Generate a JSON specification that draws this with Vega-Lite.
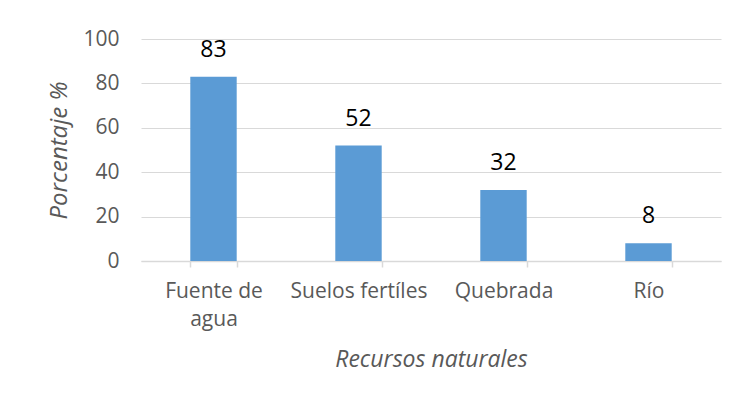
{
  "$schema": "https://vega.github.io/schema/vega-lite/v6.json",
  "autosize": "none",
  "width": 580,
  "height": 222,
  "padding": {"left": 141, "top": 39, "right": 15, "bottom": 141},
  "background": "white",
  "config": {
    "view": {"stroke": null},
    "font": "Open Sans"
  },
  "data": {
    "values": [
      {"recurso": "Fuente de agua", "porcentaje": 83},
      {"recurso": "Suelos fertíles", "porcentaje": 52},
      {"recurso": "Quebrada", "porcentaje": 32},
      {"recurso": "Río", "porcentaje": 8}
    ]
  },
  "encoding": {
    "x": {
      "field": "recurso",
      "type": "nominal",
      "sort": null,
      "scale": {"paddingInner": 0.68, "paddingOuter": 0.34},
      "axis": {
        "title": "Recursos naturales",
        "titleFont": "Open Sans",
        "titleFontStyle": "italic",
        "titleFontWeight": "normal",
        "titleFontSize": 23,
        "titleColor": "#595959",
        "titlePadding": 19,
        "labelAngle": 0,
        "labelFontSize": 21,
        "labelColor": "#595959",
        "labelPadding": 13,
        "labelLineHeight": 28,
        "labelExpr": "datum.label == 'Fuente de agua' ? ['Fuente de', 'agua'] : datum.label",
        "domainColor": "#d9d9d9",
        "domainWidth": 1.5,
        "tickColor": "#d9d9d9",
        "tickWidth": 1.5,
        "tickSize": 6,
        "tickBand": "extent",
        "grid": false
      }
    },
    "y": {
      "field": "porcentaje",
      "type": "quantitative",
      "scale": {"domain": [0, 100]},
      "axis": {
        "title": "Porcentaje %",
        "titleFont": "Open Sans",
        "titleFontStyle": "italic",
        "titleFontWeight": "normal",
        "titleFontSize": 24,
        "titleColor": "#595959",
        "titlePadding": 11,
        "values": [0, 20, 40, 60, 80, 100],
        "labelFontSize": 21,
        "labelColor": "#595959",
        "labelPadding": 22,
        "ticks": false,
        "domain": false,
        "gridColor": "#d9d9d9",
        "gridWidth": 1.2
      }
    }
  },
  "layer": [
    {"mark": {"type": "bar", "color": "#5b9bd5"}},
    {
      "mark": {"type": "text", "baseline": "alphabetic", "dy": -20, "fontSize": 23, "color": "#000000", "font": "Open Sans"},
      "encoding": {"text": {"field": "porcentaje", "type": "quantitative"}}
    }
  ]
}
